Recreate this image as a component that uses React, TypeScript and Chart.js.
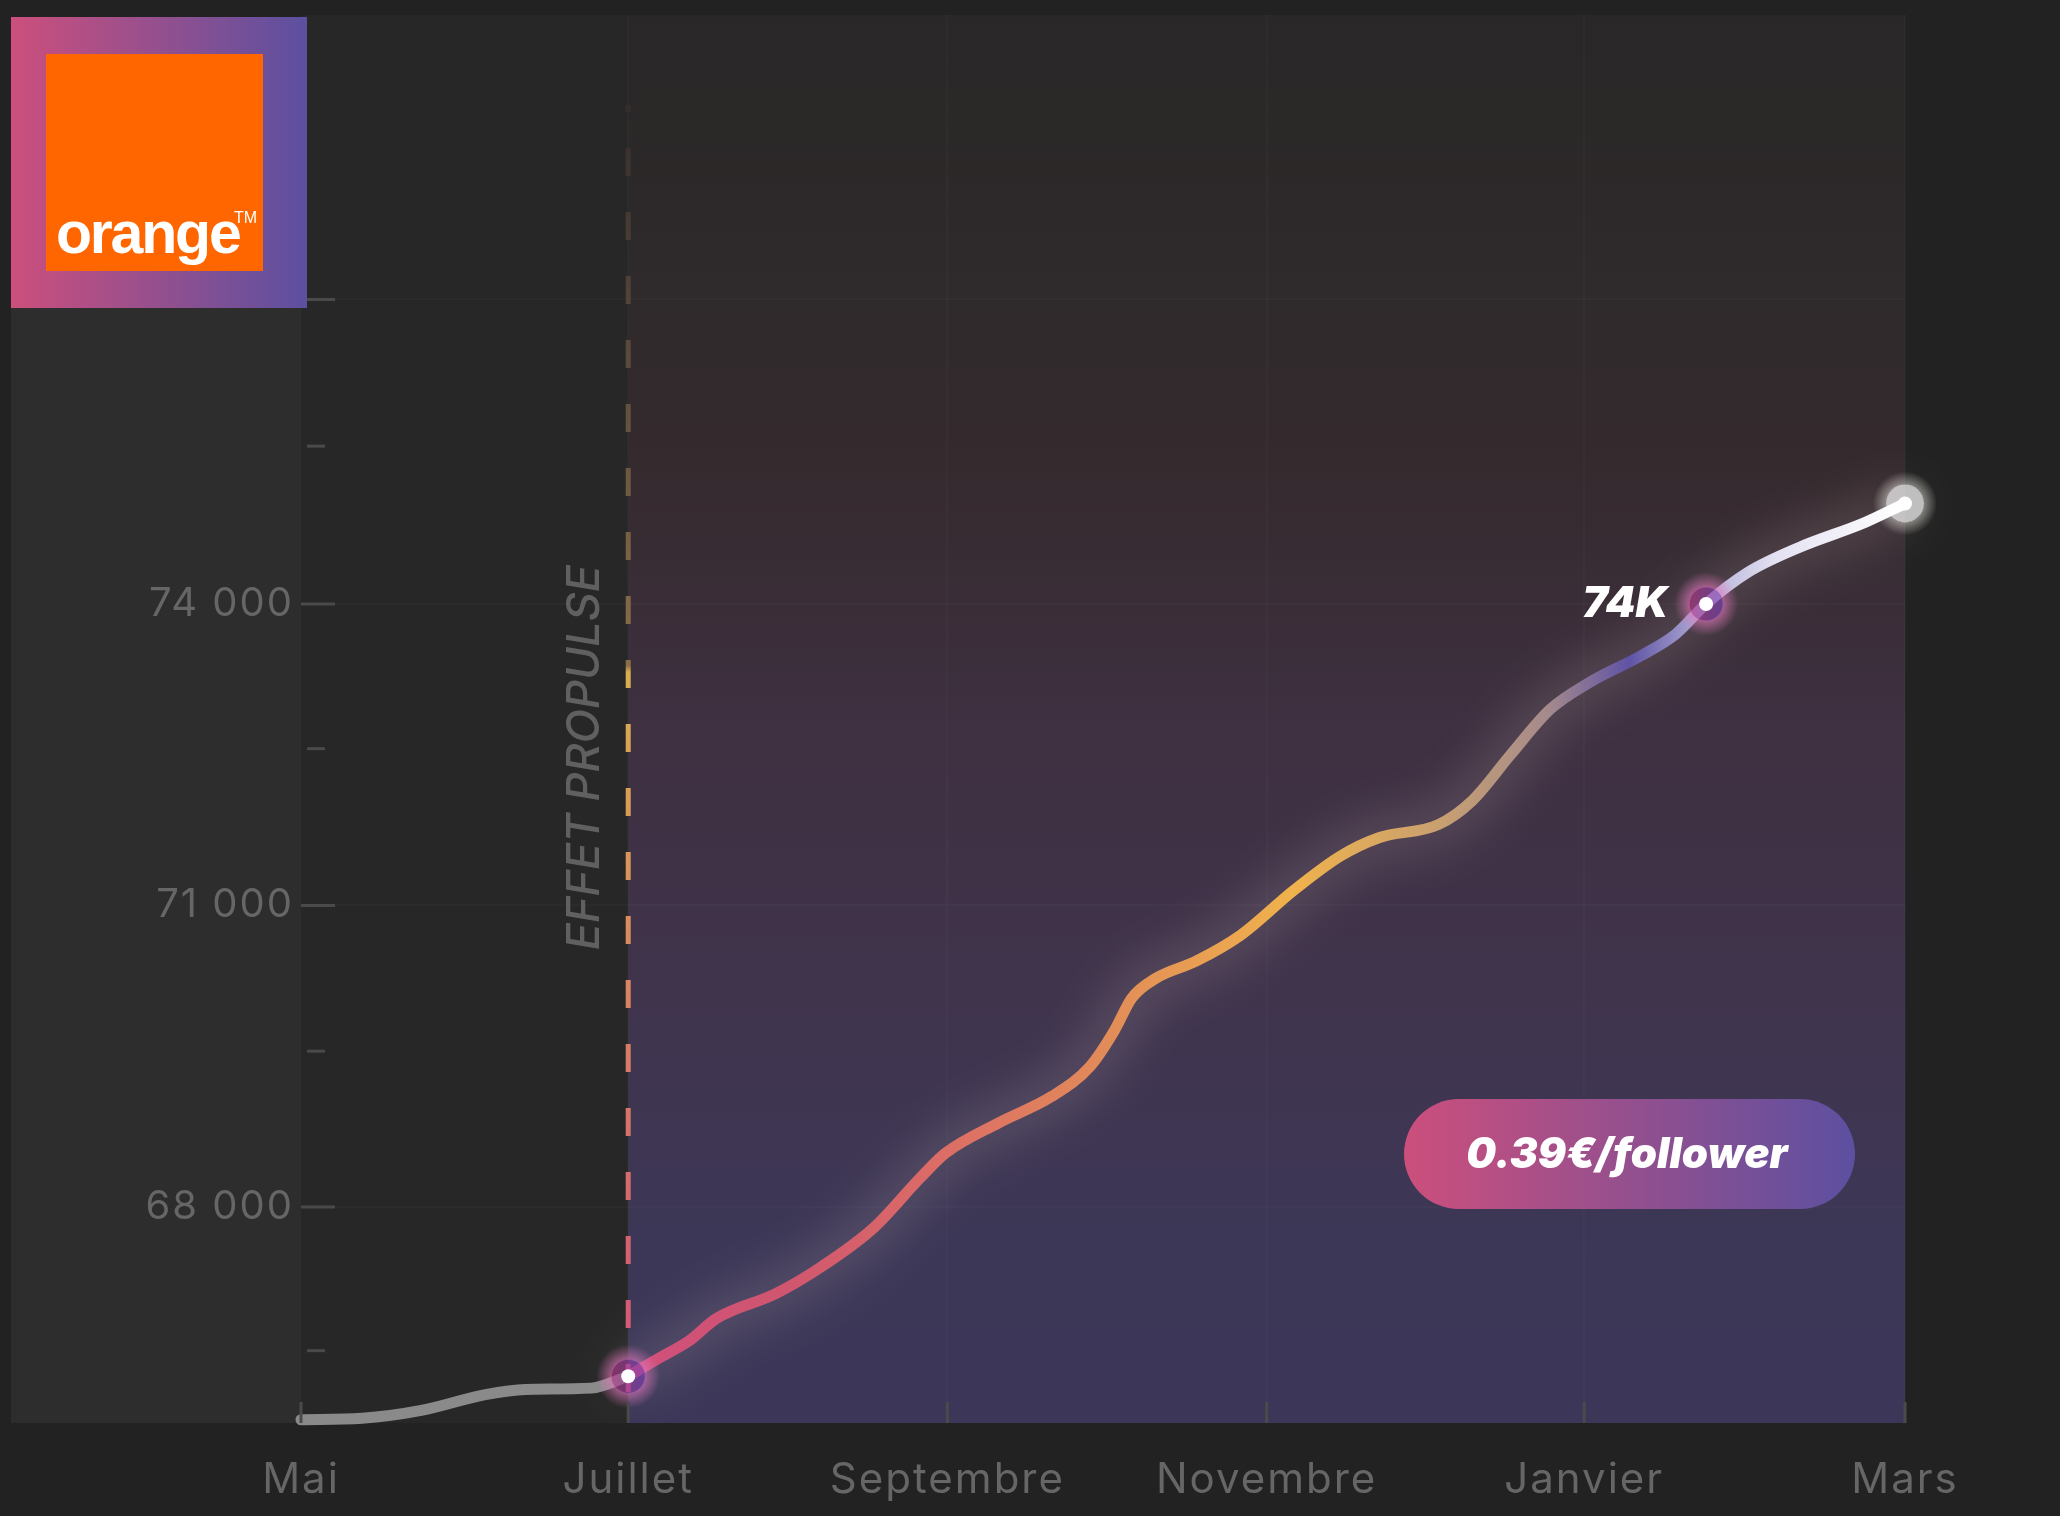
import { useEffect, useRef } from 'react';
import { Chart, registerables } from 'chart.js';

Chart.register(...registerables);

// x is in months since May, y is the follower count
const grayMonths = [0, 0.38, 0.75, 1.15, 1.4, 1.81, 2.04];
const grayFollowers = [65883, 65897, 65975, 66132, 66184, 66197, 66315];
const colorMonths = [2.04, 2.22, 2.42, 2.59, 2.96, 3.24, 3.57, 3.86, 4.02, 4.35, 4.68, 4.92, 5.07, 5.18, 5.33, 5.58, 5.86, 6.19, 6.48, 6.72, 7.09, 7.3, 7.54, 7.79, 8.03, 8.36, 8.57, 8.76, 9.02, 9.34, 9.75, 10];
const colorFollowers = [66315, 66485, 66668, 66890, 67138, 67400, 67792, 68288, 68537, 68837, 69099, 69399, 69752, 70079, 70275, 70445, 70706, 71151, 71491, 71674, 71804, 72040, 72497, 72954, 73216, 73490, 73699, 74000, 74314, 74562, 74810, 75000];
const keyMonths = [2.04, 8.76];
const keyFollowers = [66315, 74000];
const endMonths = [10];
const endFollowers = [75000];
const launchMonths = [2.04, 2.04];
const launchFollowers = [66159, 78965];

const xTicks = [0, 2.04, 4.03, 6.02, 8, 10];
const xLabels = ['Mai', 'Juillet', 'Septembre', 'Novembre', 'Janvier', 'Mars'];
const yTicks = [66570, 68000, 69550, 71000, 72560, 74000, 75570, 77030];
const yLabels = ['', '68 000', '', '71 000', '', '74 000', '', ''];
const yMajor = [68000, 71000, 74000, 77030];

const PINK = '#cc4f7c';
const PURPLE = '#5c50a0';
const TICK_FONT = 'Inter';
const GRID = 'rgba(255,255,255,0.02)';

const toPoints = (xs: number[], ys: number[]) => xs.map((x, i) => ({ x, y: ys[i] }));

function lineGradient(c: any) {
  const { chart } = c;
  if (!chart.chartArea) return PINK;
  const sx = chart.scales.x;
  const g = chart.ctx.createLinearGradient(sx.getPixelForValue(2.04), 0, sx.getPixelForValue(10), 0);
  g.addColorStop(0, '#cf4f7c');
  g.addColorStop(0.125, '#d0566f');
  g.addColorStop(0.25, '#dc6e66');
  g.addColorStop(0.38, '#e28d58');
  g.addColorStop(0.52, '#f0b24c');
  g.addColorStop(0.635, '#c8a070');
  g.addColorStop(0.72, '#a58a8c');
  g.addColorStop(0.784, '#5f53a5');
  g.addColorStop(0.84, '#b0acd5');
  g.addColorStop(0.9, '#e4e2f2');
  g.addColorStop(1, '#ffffff');
  return g;
}

function launchGradient(c: any) {
  const { chart } = c;
  if (!chart.chartArea) return PINK;
  const g = chart.ctx.createLinearGradient(0, 1400, 0, 100);
  g.addColorStop(0, '#d05078');
  g.addColorStop(0.35, '#d98a60');
  g.addColorStop(0.56, '#d8ae50');
  g.addColorStop(0.565, '#8a6f48');
  g.addColorStop(0.8, '#5c4a3c');
  g.addColorStop(1, '#332c2c');
  return g;
}

function haloGradient(c: any) {
  const { chart, parsed } = c;
  if (!chart.chartArea || !parsed) return PINK;
  const px = chart.scales.x.getPixelForValue(parsed.x);
  const g = chart.ctx.createLinearGradient(px - 17, 0, px + 17, 0);
  g.addColorStop(0, 'rgba(185,55,135,0.62)');
  g.addColorStop(1, 'rgba(120,65,185,0.62)');
  return g;
}

// soft ring just outside a halo, transparent under the halo itself
const ringGradient = (rgb: string, alpha: number, inner: number) => (c: any) => {
  const { chart, parsed } = c;
  if (!chart.chartArea || !parsed) return 'rgba(0,0,0,0)';
  const px = chart.scales.x.getPixelForValue(parsed.x);
  const py = chart.scales.y.getPixelForValue(parsed.y);
  const g = chart.ctx.createRadialGradient(px, py, 0, px, py, 32);
  g.addColorStop(0, `rgba(${rgb},0)`);
  g.addColorStop(inner, `rgba(${rgb},0)`);
  g.addColorStop(inner + 0.02, `rgba(${rgb},${alpha})`);
  g.addColorStop(1, `rgba(${rgb},0)`);
  return g;
};

const glowPlugin = {
  id: 'glow',
  beforeDatasetDraw(chart: any, args: any) {
    const ds = chart.data.datasets[args.index];
    chart.ctx.save();
    if (ds.glowColor) {
      chart.ctx.shadowColor = ds.glowColor;
      chart.ctx.shadowBlur = ds.glowBlur;
    }
  },
  afterDatasetDraw(chart: any) {
    chart.ctx.restore();
  },
};

const panelPlugin = {
  id: 'panels',
  beforeDraw(chart: any) {
    const { ctx, chartArea: a, scales } = chart;
    const split = scales.x.getPixelForValue(2.04);
    ctx.save();
    ctx.fillStyle = '#222222';
    ctx.fillRect(0, 0, chart.width, chart.height);
    ctx.fillStyle = '#272727';
    ctx.fillRect(a.left, a.top, split - a.left, a.bottom - a.top);
    ctx.fillStyle = '#2d2d2d';
    ctx.fillRect(11, 300, a.left - 11, a.bottom - 300);
    const g = ctx.createLinearGradient(0, a.top, 0, a.bottom);
    g.addColorStop(0, '#292727');
    g.addColorStop(0.2, '#2f2a2b');
    g.addColorStop(0.32, '#352a2e');
    g.addColorStop(0.5, '#3e3040');
    g.addColorStop(0.7, '#40344d');
    g.addColorStop(0.88, '#3c3757');
    g.addColorStop(1, '#3c3758');
    ctx.fillStyle = g;
    ctx.fillRect(split, a.top, a.right - split, a.bottom - a.top);
    ctx.restore();
    // tick labels are wider than the font in the original
    ctx.letterSpacing = '2px';
  },
};

const overlayPlugin = {
  id: 'overlay',
  afterDraw(chart: any) {
    const { ctx, chartArea: a, scales } = chart;
    const { x, y } = scales;
    ctx.letterSpacing = '0px';
    ctx.save();

    // ticks point inwards on both axes
    ctx.strokeStyle = '#4a4a4a';
    ctx.lineWidth = 3;
    yTicks.forEach((v) => {
      const py = y.getPixelForValue(v);
      const major = yMajor.includes(v);
      ctx.beginPath();
      ctx.moveTo(major ? a.left : a.left + 6, py);
      ctx.lineTo(major ? a.left + 34 : a.left + 24, py);
      ctx.stroke();
    });
    xTicks.forEach((v) => {
      const px = x.getPixelForValue(v);
      ctx.beginPath();
      ctx.moveTo(px, a.bottom);
      ctx.lineTo(px, a.bottom - 21);
      ctx.stroke();
    });

    // side label of the launch line
    ctx.save();
    ctx.translate(x.getPixelForValue(2.04) - 43, y.getPixelForValue(72470));
    ctx.rotate(-Math.PI / 2);
    ctx.font = 'italic 500 45px Inter';
    ctx.fillStyle = '#606060';
    ctx.textAlign = 'center';
    ctx.textBaseline = 'middle';
    ctx.fillText('EFFET PROPULSE', 0, 0);
    ctx.restore();

    // 74K
    ctx.font = 'italic 900 43px Inter';
    ctx.fillStyle = '#ffffff';
    ctx.textAlign = 'right';
    ctx.textBaseline = 'middle';
    ctx.fillText('74K', x.getPixelForValue(keyMonths[1]) - 38, y.getPixelForValue(keyFollowers[1]));

    // cost pill
    const pill = ctx.createLinearGradient(1404, 0, 1855, 0);
    pill.addColorStop(0, PINK);
    pill.addColorStop(1, PURPLE);
    ctx.fillStyle = pill;
    ctx.beginPath();
    ctx.roundRect(1404, 1099, 451, 110, 55);
    ctx.fill();
    ctx.font = 'italic 900 42px Inter';
    ctx.fillStyle = '#ffffff';
    ctx.textAlign = 'center';
    ctx.fillText('0.39€/follower', 1627, 1155);

    // logo
    const logo = ctx.createLinearGradient(11, 0, 306, 0);
    logo.addColorStop(0, PINK);
    logo.addColorStop(1, PURPLE);
    ctx.fillStyle = logo;
    ctx.fillRect(11, 17, 296, 291);
    ctx.fillStyle = '#ff6600';
    ctx.fillRect(46, 54, 217, 217);
    ctx.fillStyle = '#ffffff';
    ctx.textAlign = 'left';
    ctx.textBaseline = 'alphabetic';
    ctx.font = 'bold 59px "Liberation Sans"';
    ctx.letterSpacing = '-2.2px';
    ctx.fillText('orange', 56, 253);
    ctx.letterSpacing = '0px';
    ctx.font = '16px "Liberation Sans"';
    ctx.fillText('TM', 234, 223);
    ctx.restore();
  },
};

export default function App() {
  const canvasRef = useRef<HTMLCanvasElement>(null);

  useEffect(() => {
    if (!canvasRef.current) return;
    const chart = new Chart(canvasRef.current, {
      type: 'line',
      data: {
        datasets: [
          { data: toPoints(keyMonths, keyFollowers), order: 1, showLine: false, pointRadius: 7, pointBackgroundColor: '#ffffff', pointBorderWidth: 0 },
          { data: toPoints(endMonths, endFollowers), order: 1, showLine: false, pointRadius: 7, pointBackgroundColor: '#ffffff', pointBorderWidth: 0 },
          { data: toPoints(keyMonths, keyFollowers), order: 2, showLine: false, pointRadius: 17, pointBackgroundColor: haloGradient, pointBorderWidth: 0 },
          { data: toPoints(endMonths, endFollowers), order: 2, showLine: false, pointRadius: 19, pointBackgroundColor: 'rgba(255,255,255,0.7)', pointBorderWidth: 0 },
          { data: toPoints(keyMonths, keyFollowers), order: 3, showLine: false, pointRadius: 32, pointBackgroundColor: ringGradient('225,120,190', 0.6, 0.5), pointBorderWidth: 0 },
          { data: toPoints(endMonths, endFollowers), order: 3, showLine: false, pointRadius: 32, pointBackgroundColor: ringGradient('255,255,245', 0.4, 0.58), pointBorderWidth: 0 },
          { data: toPoints(colorMonths, colorFollowers), order: 4, borderColor: lineGradient, borderWidth: 11, borderCapStyle: 'round', cubicInterpolationMode: 'monotone', pointRadius: 0, glowColor: 'rgba(255,235,225,0.5)', glowBlur: 50 },
          { data: toPoints(grayMonths, grayFollowers), order: 5, borderColor: '#8a8a8a', borderWidth: 11, borderCapStyle: 'round', cubicInterpolationMode: 'monotone', pointRadius: 0 },
          { data: toPoints(launchMonths, launchFollowers), order: 6, borderColor: launchGradient, borderWidth: 5, borderDash: [28, 36], pointRadius: 0 },
        ] as any,
      },
      options: {
        responsive: false,
        devicePixelRatio: 1,
        animation: false,
        clip: false,
        layout: { autoPadding: false, padding: { top: 15, right: 155, left: 0, bottom: 0 } },
        plugins: { legend: { display: false }, tooltip: { enabled: false } },
        scales: {
          x: {
            type: 'linear',
            min: 0,
            max: 10,
            afterFit: (s: any) => { s.height = 93; s.paddingLeft = 0; s.paddingRight = 0; },
            afterBuildTicks: (s: any) => { s.ticks = xTicks.map((value) => ({ value })); },
            grid: {
              color: (c: any) => (c.tick?.value === 0 ? 'rgba(0,0,0,0)' : GRID),
              lineWidth: 2,
              drawTicks: false,
            },
            border: { display: false },
            ticks: {
              autoSkip: false,
              maxRotation: 0,
              padding: 32,
              color: '#666666',
              font: { family: TICK_FONT, size: 42 },
              callback: (v: any) => xLabels[xTicks.indexOf(v)],
            },
          },
          y: {
            min: 65850,
            max: 79860,
            afterFit: (s: any) => { s.width = 301; s.paddingTop = 0; s.paddingBottom = 0; },
            afterBuildTicks: (s: any) => { s.ticks = yTicks.map((value) => ({ value })); },
            grid: {
              color: (c: any) => (yMajor.includes(c.tick?.value) ? GRID : 'rgba(0,0,0,0)'),
              lineWidth: 2,
              drawTicks: false,
            },
            border: { display: false },
            ticks: {
              autoSkip: false,
              padding: 7,
              color: '#666666',
              font: { family: TICK_FONT, size: 40 },
              callback: (v: any) => yLabels[yTicks.indexOf(v)],
            },
          },
        },
      },
      plugins: [panelPlugin, glowPlugin, overlayPlugin],
    });

    return () => chart.destroy();
  }, []);

  return (
    <div style={{ position: 'fixed', left: 0, top: 0, width: 2060, height: 1516 }}>
      <canvas ref={canvasRef} width={2060} height={1516} />
    </div>
  );
}
